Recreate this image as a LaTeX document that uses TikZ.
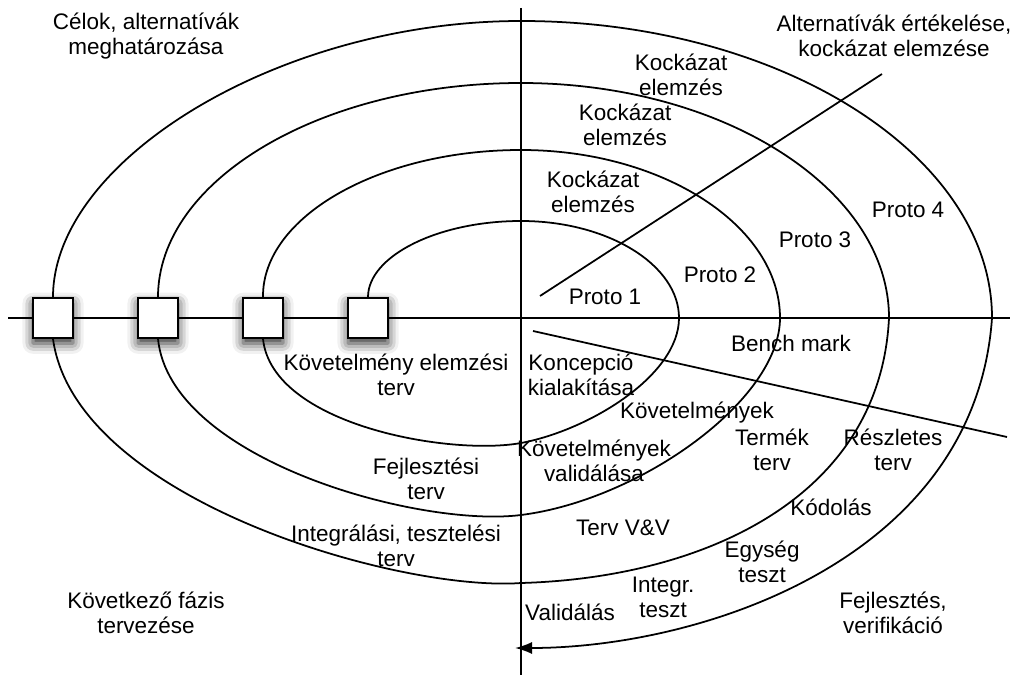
\documentclass[tikz,border=0pt]{standalone}
\usepackage{fontspec}
\setmainfont{Liberation Sans}
\usetikzlibrary{arrows.meta,shadows.blur}

\begin{document}
\begin{tikzpicture}[x=0.02cm, y=-0.02cm, line width=1pt]
    \tikzstyle{phase}=[font=\fontsize{12.8}{14.2}\selectfont, align=center, inner sep=0pt]
    \tikzstyle{gate}=[draw, rectangle, fill=white, minimum size=0.8cm, inner sep=0pt, blur shadow={shadow xshift=0pt, shadow yshift=-3pt, shadow blur radius=6pt, shadow opacity=85}]
    \useasboundingbox (0,0) rectangle (1010,675);
    \coordinate (west) at (8,318);
    \coordinate (east) at (1010,318);
    \coordinate (north) at (521,8);
    \coordinate (south) at (521,675);
    \draw (west) -- (east);
    \draw (north) -- (south);
    \node[gate] (g1) at (53,318) {};
    \node[gate] (g2) at (158,318) {};
    \node[gate] (g3) at (263,318) {};
    \node[gate] (g4) at (368,318) {};
    \coordinate (arrowend) at (515,648);
    \draw (g4.north) .. controls (368,256) and (438,221) .. (521,221)
        .. controls (608,221) and (679,265) .. (679,318)
        .. controls (679,375) and (590,430) .. (521,443)
        .. controls (450,456) and (272,425) .. (g3.south);
    \draw (g3.north) .. controls (262,217) and (379,150) .. (521,150)
        .. controls (663,150) and (780,226) .. (780,318)
        .. controls (780,400) and (640,500) .. (521,515)
        .. controls (420,528) and (170,460) .. (g2.south);
    \draw (g2.north) .. controls (158,180) and (321,83) .. (521,83)
        .. controls (723,83) and (889,189) .. (889,318)
        .. controls (880,500) and (700,578) .. (521,583)
        .. controls (400,592) and (75,500) .. (g1.south);
    \draw[-{Latex[length=0.34cm,width=0.24cm]}] (g1.north) .. controls (53,160) and (280,21) .. (521,21)
        .. controls (780,21) and (992,155) .. (992,318)
        .. controls (975,560) and (700,648) .. (arrowend);
    \coordinate (d1a) at (540,296);
    \coordinate (d1b) at (882,74);
    \coordinate (d2a) at (533,331);
    \coordinate (d2b) at (1007,437);
    \draw (d1a) -- (d1b);
    \draw (d2a) -- (d2b);
    \node[phase] (celok) at (146,36) {Célok, alternatívák\\meghatározása};
    \node[phase] (ertekeles) at (894,36) {Alternatívák értékelése,\\kockázat elemzése};
    \node[phase] (kovfazis) at (146,613) {Következő fázis\\tervezése};
    \node[phase] (fejlesztes) at (893,613) {Fejlesztés,\\verifikáció};
    \node[phase] (kock3) at (681,75) {Kockázat\\elemzés};
    \node[phase] (kock2) at (625,125) {Kockázat\\elemzés};
    \node[phase] (kock1) at (593,192) {Kockázat\\elemzés};
    \node[phase] (proto1) at (605,297) {Proto 1};
    \node[phase] (proto2) at (720,275) {Proto 2};
    \node[phase] (proto3) at (815,240) {Proto 3};
    \node[phase] (proto4) at (908,210) {Proto 4};
    \node[phase] (bench) at (791,343) {Bench mark};
    \node[phase] (koncepcio) at (581,375) {Koncepció\\kialakítása};
    \node[phase] (kovet) at (697,413) {Követelmények};
    \node[phase] (kovetval) at (594,461) {Követelmények\\validálása};
    \node[phase] (termek) at (772,450) {Termék\\terv};
    \node[phase] (reszletes) at (893,450) {Részletes\\terv};
    \node[phase] (kodolas) at (831,507) {Kódolás};
    \node[phase] (tervvv) at (623,528) {Terv V\&V};
    \node[phase] (egyseg) at (762,562) {Egység\\teszt};
    \node[phase] (integr) at (663,597) {Integr.\\teszt};
    \node[phase] (validalas) at (570,612) {Validálás};
    \node[phase] (kovelemzes) at (396,375) {Követelmény elemzési\\terv};
    \node[phase] (fejlterv) at (426,479) {Fejlesztési\\terv};
    \node[phase] (integrterv) at (396,546) {Integrálási, tesztelési\\terv};
\end{tikzpicture}
\end{document}
